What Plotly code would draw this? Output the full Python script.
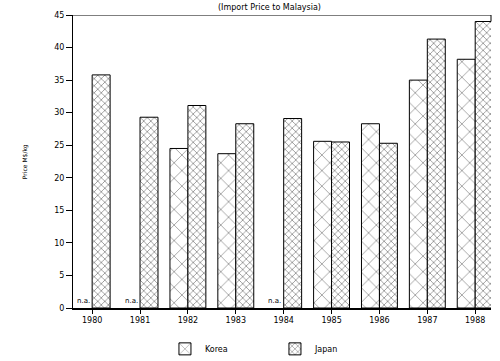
import plotly.graph_objects as go

years = ["1980", "1981", "1982", "1983", "1984", "1985", "1986", "1987", "1988"]
korea = [None, None, 24.5, 23.7, None, 25.6, 28.3, 35.0, 38.2]
japan = [35.8, 29.3, 31.1, 28.3, 29.1, 25.5, 25.3, 41.3, 44.0]
na_years = ["1980", "1981", "1984"]
y_ticks = [0, 5, 10, 15, 20, 25, 30, 35, 40, 45]

FONT = "DejaVu Sans"

fig = go.Figure()
fig.add_trace(go.Bar(
    name="Korea", x=years, y=korea,
    marker=dict(color="white", line=dict(color="black", width=1),
                pattern=dict(shape="x", size=11, solidity=0.12, fgcolor="black", bgcolor="white")),
))
fig.add_trace(go.Bar(
    name="Japan", x=years, y=japan,
    marker=dict(color="white", line=dict(color="black", width=1),
                pattern=dict(shape="x", size=5, solidity=0.3, fgcolor="#222", bgcolor="white")),
))

for yr in na_years:
    fig.add_annotation(x=years.index(yr), y=0, xref="x", yref="y", text="n.a.", showarrow=False,
                       xshift=-9, yanchor="bottom", yshift=1,
                       font=dict(family=FONT, size=7, color="black"))

fig.add_annotation(x=0.47, y=1.0, xref="paper", yref="paper", yanchor="bottom", yshift=1,
                   text="(Import Price to Malaysia)", showarrow=False,
                   font=dict(family=FONT, size=8, color="black"))

fig.add_annotation(x=-0.13, y=0.5, xref="paper", yref="paper", textangle=-90,
                   text="Price M$/kg", showarrow=False,
                   font=dict(family=FONT, size=6, color="black"))

# top frame line and right stub
fig.add_shape(type="line", xref="paper", yref="y", x0=0, x1=1, y0=45, y1=45,
              line=dict(color="black", width=1))
fig.add_shape(type="line", xref="paper", yref="y", x0=1, x1=1, y0=45, y1=44,
              line=dict(color="black", width=1))

fig.update_layout(
    width=500, height=361,
    margin=dict(l=73, r=9, t=15, b=53, autoexpand=False),
    paper_bgcolor="white", plot_bgcolor="white",
    barmode="group", bargap=0.25, bargroupgap=0,
    font=dict(family=FONT, size=8, color="black"),
    legend=dict(orientation="h", x=0.22, xanchor="left", y=-0.09, yanchor="top",
                font=dict(family=FONT, size=8), entrywidth=65, itemwidth=30),
    xaxis=dict(type="category", showline=True, linecolor="black", linewidth=1.5, ticks="outside",
               ticklen=4, tickcolor="black", tickfont=dict(family=FONT, size=8),
               range=[-0.4, 8.33], showgrid=False, automargin=False),
    yaxis=dict(range=[0, 45], tickvals=y_ticks, showline=True, linecolor="black",
               linewidth=1, ticks="outside", ticklen=6, tickcolor="black",
               showgrid=False, zeroline=False, tickfont=dict(family=FONT, size=8),
               automargin=False),
)

fig.write_html("out.html", config={"displayModeBar": False},
               post_script="document.body.style.margin='0';document.body.style.overflow='hidden';")
